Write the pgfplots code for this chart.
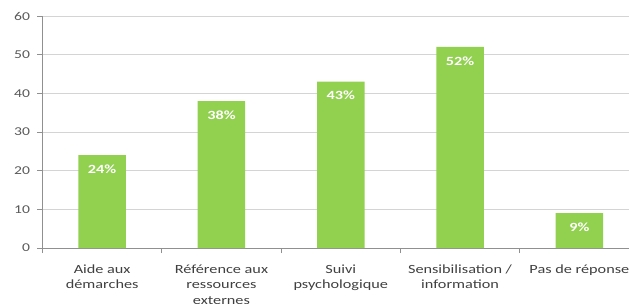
\documentclass[border=0pt]{standalone}
\usepackage{fontspec}
\setmainfont{Carlito}[FakeStretch=1.3]
\usepackage{pgfplots}
\pgfplotsset{compat=1.18}
\definecolor{bargreen}{HTML}{92D050}
\definecolor{gridgray}{HTML}{D4D4D4}
\definecolor{axisgray}{HTML}{909090}
\definecolor{ticktext}{HTML}{595959}
\definecolor{cattext}{HTML}{404040}
\begin{document}
\begin{tikzpicture}
\path[use as bounding box] (-42.5pt,-55pt) rectangle (586.5pt,248pt);
\begin{scope}
\clip (-42.5pt,-55pt) rectangle (586.5pt,248pt);
\begin{axis}[
  at={(0pt,0pt)}, anchor=south west,
  scale only axis, width=596.5pt, height=232pt,
  xmin=-0.5, xmax=4.5, ymin=0, ymax=60,
  ytick={0,10,...,60},
  xtick={0,1,2,3,4},
  xticklabels={Aide aux\\démarches, Référence aux\\ressources\\externes, Suivi\\psychologique, Sensibilisation /\\information, Pas de réponse},
  minor xtick={-0.5,0.5,1.5,2.5,3.5,4.5},
  axis x line*=bottom, axis y line*=left,
  axis line style={-, draw=axisgray, line width=0.8pt},
  tick align=outside,
  major tick length=5pt, minor tick length=5pt,
  major x tick style={draw=none},
  minor x tick style={draw=axisgray, line width=0.8pt},
  major y tick style={draw=axisgray, line width=0.8pt},
  ymajorgrids, major grid style={draw=gridgray, line width=0.9pt},
  /pgf/number format/assume math mode=true,
  yticklabel style={font=\fontsize{12}{14}\selectfont, text=ticktext, xshift=-4pt},
  xticklabel style={font=\fontsize{12.5}{15.5}\selectfont, text=cattext, align=center, anchor=north, yshift=-8pt},
  nodes near coords={\pgfmathprintnumber{\pgfplotspointmeta}\%},
  every node near coord/.append style={font=\bfseries\fontsize{12.5}{14}\selectfont, text=white, anchor=north, yshift=-6pt},
  clip=false,
]
\addplot[ybar, bar width=47.5pt, fill=bargreen, draw=none] coordinates {(0,24) (1,38) (2,43) (3,52) (4,9)};
\end{axis}
\end{scope}
\end{tikzpicture}
\end{document}
